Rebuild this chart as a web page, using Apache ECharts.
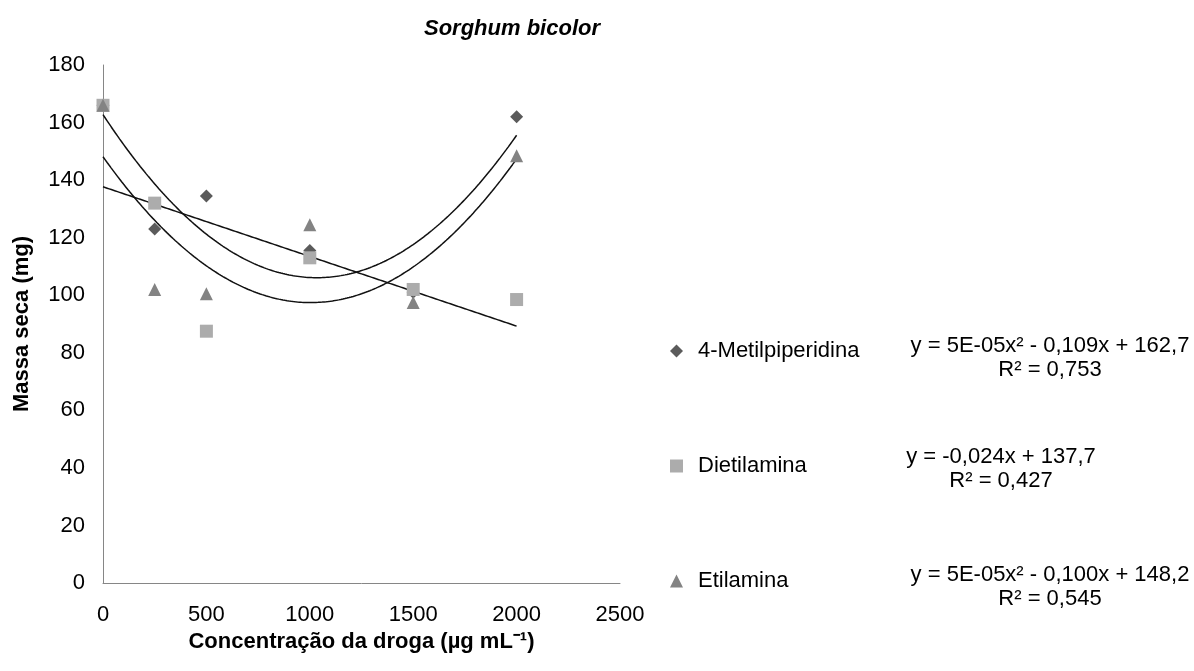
<!DOCTYPE html>
<html>
<head>
<meta charset="utf-8">
<script src="https://cdn.jsdelivr.net/npm/echarts@6/dist/echarts.min.js"></script>
<style>
  html, body { margin: 0; padding: 0; background: #fff; }
  #chart { width: 1194px; height: 671px; }
</style>
</head>
<body>
<div id="chart"></div>
<script>
// Drug concentration (µg/mL) and dry mass (mg) of Sorghum bicolor
const concentrations = [0, 250, 500, 1000, 1500, 2000];
const metilpiperidina = [166, 123, 134.5, 115.5, 101, 162];
const dietilamina = [166, 132, 87.5, 113, 102, 98.5];
const etilamina = [166, 102, 100.5, 124.5, 97.5, 148.5];

const seriesNames = ['4-Metilpiperidina', 'Dietilamina', 'Etilamina'];
const equationLines = [
  ['y = 5E-05x² - 0,109x + 162,7', 'R² = 0,753'],
  ['y = -0,024x + 137,7', 'R² = 0,427'],
  ['y = 5E-05x² - 0,100x + 148,2', 'R² = 0,545']
];
const xTicks = [0, 500, 1000, 1500, 2000, 2500];
const yTicks = [0, 20, 40, 60, 80, 100, 120, 140, 160, 180];

const FONT = 'Liberation Sans, Arial, sans-serif';
const FS = 22;

// Least-squares polynomial fit (degree 1 or 2), solved via normal equations
function polyFit(xs, ys, degree) {
  const n = degree + 1;
  const A = [];
  for (let r = 0; r < n; r++) {
    const row = [];
    for (let c = 0; c < n; c++) {
      let s = 0;
      for (let i = 0; i < xs.length; i++) s += Math.pow(xs[i], r + c);
      row.push(s);
    }
    let t = 0;
    for (let i = 0; i < xs.length; i++) t += ys[i] * Math.pow(xs[i], r);
    row.push(t);
    A.push(row);
  }
  for (let p = 0; p < n; p++) {
    let best = p;
    for (let r = p + 1; r < n; r++) if (Math.abs(A[r][p]) > Math.abs(A[best][p])) best = r;
    [A[p], A[best]] = [A[best], A[p]];
    for (let r = 0; r < n; r++) {
      if (r === p) continue;
      const f = A[r][p] / A[p][p];
      for (let c = p; c <= n; c++) A[r][c] -= f * A[p][c];
    }
  }
  return A.map((row, i) => row[n] / row[i]); // [c0, c1, c2]
}

function trendPoints(ys, degree) {
  const coef = polyFit(concentrations, ys, degree);
  const lo = concentrations[0], hi = concentrations[concentrations.length - 1];
  const pts = [];
  const steps = 200;
  for (let k = 0; k <= steps; k++) {
    const x = lo + (hi - lo) * k / steps;
    let y = 0;
    for (let d = 0; d < coef.length; d++) y += coef[d] * Math.pow(x, d);
    pts.push([x, y]);
  }
  return pts;
}

const pairs = ys => concentrations.map((x, i) => [x, ys[i]]);

const trendSeries = (name, ys, degree) => ({
  name: name,
  type: 'line',
  data: trendPoints(ys, degree),
  showSymbol: false,
  symbol: 'none',
  lineStyle: { color: '#111', width: 1.5 },
  itemStyle: { color: '#111' },
  silent: true,
  z: 1
});

const chart = echarts.init(document.getElementById('chart'), null, { renderer: 'canvas' });

// Trendline equations, centred two-line labels beside the legend
const eqCenterX = [1050, 1001, 1050];
const eqY = [346, 457, 575];
const eqGraphics = [];
equationLines.forEach((lines, i) => {
  lines.forEach((txt, j) => {
    eqGraphics.push({
      type: 'text',
      x: eqCenterX[i],
      y: eqY[i] + j * 24,
      style: {
        text: txt,
        fill: '#000',
        font: FS + 'px ' + FONT,
        textAlign: 'center',
        textVerticalAlign: 'middle'
      }
    });
  });
});

chart.setOption({
  animation: false,
  backgroundColor: '#fff',
  textStyle: { fontFamily: FONT },
  title: {
    text: 'Sorghum bicolor',
    left: 507,
    top: 13,
    textAlign: 'center',
    textStyle: { fontSize: FS, fontWeight: 'bold', fontStyle: 'italic', color: '#000', fontFamily: FONT }
  },
  grid: { left: 103, right: 574, top: 65, bottom: 88, containLabel: false },
  legend: {
    orient: 'vertical',
    left: 665,
    top: 335,
    itemGap: 93,
    itemWidth: 13,
    itemHeight: 13,
    textStyle: { fontSize: FS, color: '#000', fontFamily: FONT, padding: [0, 0, 0, 10] },
    data: [
      { name: seriesNames[0], icon: 'diamond' },
      { name: seriesNames[1], icon: 'rect' },
      { name: seriesNames[2], icon: 'triangle' }
    ]
  },
  xAxis: {
    type: 'value',
    min: xTicks[0],
    max: xTicks[xTicks.length - 1],
    interval: 500,
    name: 'Concentração da droga (µg mL⁻¹)',
    nameLocation: 'middle',
    nameGap: 38,
    nameTextStyle: { fontSize: FS, fontWeight: 'bold', color: '#000', fontFamily: FONT },
    axisLine: { show: true, lineStyle: { color: '#868686', width: 1 } },
    axisTick: { show: false },
    splitLine: { show: false },
    axisLabel: { fontSize: FS, color: '#000', margin: 21, fontFamily: FONT, formatter: v => String(v) }
  },
  yAxis: {
    type: 'value',
    min: yTicks[0],
    max: yTicks[yTicks.length - 1],
    interval: 20,
    name: 'Massa seca (mg)',
    nameLocation: 'middle',
    nameGap: 70,
    nameTextStyle: { fontSize: FS, fontWeight: 'bold', color: '#000', fontFamily: FONT },
    axisLine: { show: true, lineStyle: { color: '#868686', width: 1 } },
    axisTick: { show: false },
    splitLine: { show: false },
    axisLabel: { fontSize: FS, color: '#000', margin: 18, fontFamily: FONT }
  },
  graphic: eqGraphics,
  series: [
    trendSeries('trend-mp', metilpiperidina, 2),
    trendSeries('trend-da', dietilamina, 1),
    trendSeries('trend-ea', etilamina, 2),
    {
      name: seriesNames[0], type: 'scatter', symbol: 'diamond', symbolSize: 13,
      itemStyle: { color: '#5b5b5b', opacity: 1 }, data: pairs(metilpiperidina), z: 3
    },
    {
      name: seriesNames[1], type: 'scatter', symbol: 'rect', symbolSize: 13,
      itemStyle: { color: '#acacac', opacity: 1 }, data: pairs(dietilamina), z: 4
    },
    {
      name: seriesNames[2], type: 'scatter', symbol: 'triangle', symbolSize: 13,
      itemStyle: { color: '#838383', opacity: 1 }, data: pairs(etilamina), z: 5
    }
  ]
});
</script>
</body>
</html>
